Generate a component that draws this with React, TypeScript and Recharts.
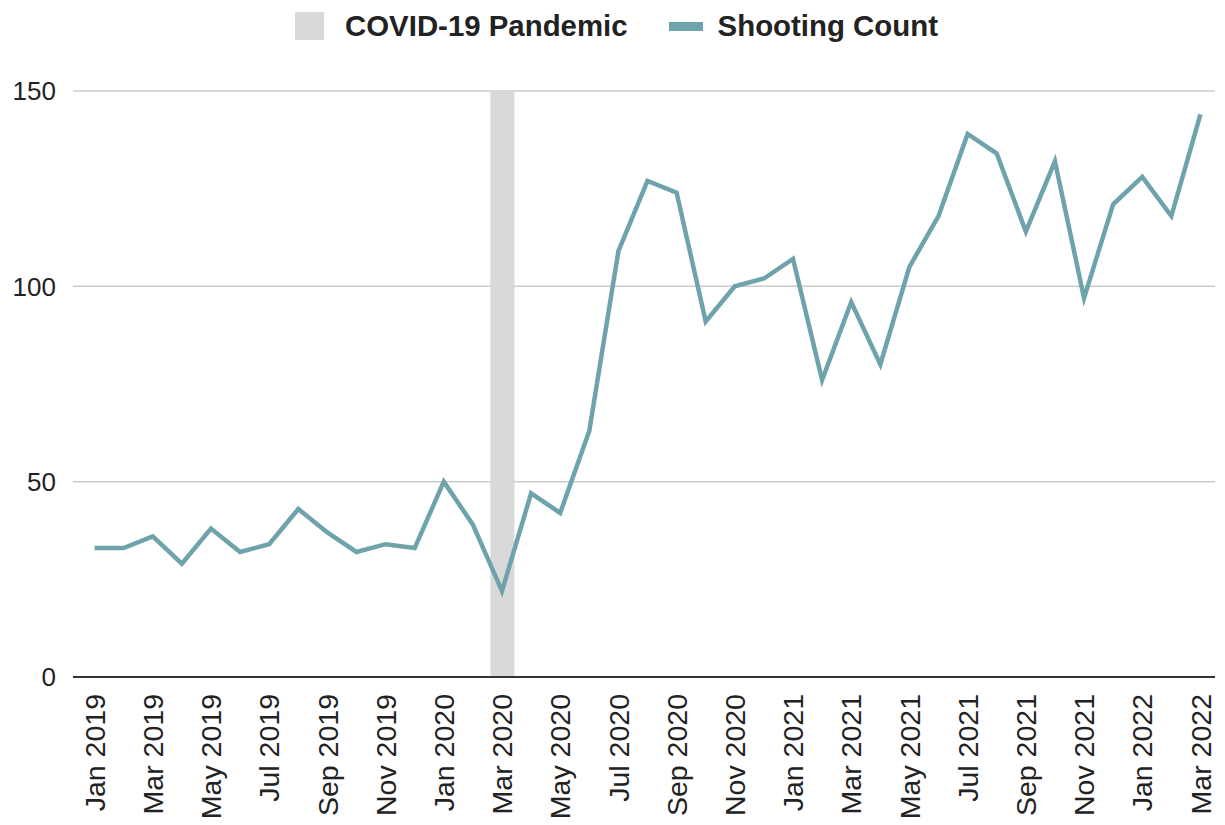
import { ComposedChart, Bar, Line, XAxis, YAxis, CartesianGrid, Legend } from "recharts";

const months = [
  "Jan 2019", "Feb 2019", "Mar 2019", "Apr 2019", "May 2019", "Jun 2019",
  "Jul 2019", "Aug 2019", "Sep 2019", "Oct 2019", "Nov 2019", "Dec 2019",
  "Jan 2020", "Feb 2020", "Mar 2020", "Apr 2020", "May 2020", "Jun 2020",
  "Jul 2020", "Aug 2020", "Sep 2020", "Oct 2020", "Nov 2020", "Dec 2020",
  "Jan 2021", "Feb 2021", "Mar 2021", "Apr 2021", "May 2021", "Jun 2021",
  "Jul 2021", "Aug 2021", "Sep 2021", "Oct 2021", "Nov 2021", "Dec 2021",
  "Jan 2022", "Feb 2022", "Mar 2022",
];

const shootingCount = [
  33, 33, 36, 29, 38, 32, 34, 43, 37, 32, 34, 33,
  50, 39, 22, 47, 42, 63, 109, 127, 124, 91, 100, 102,
  107, 76, 96, 80, 105, 118, 139, 134, 114, 132, 97, 121,
  128, 118, 144,
];

// pandemic marker: one full-height bar at Mar 2020
const covidMonth = "Mar 2020";
const covidHeight = 150;

const yTicks = [0, 50, 100, 150];

const FONT = "'Liberation Sans', Arial, sans-serif";
const LINE_COLOR = "#6fa3ab";
const BAR_COLOR = "#d9d9d9";

const data = months.map((m, i) => ({
  month: m,
  shooting: shootingCount[i],
  covid: m === covidMonth ? covidHeight : null,
}));

function MonthTick({ x, y, payload }: any) {
  const ty = y + 9;
  return (
    <text
      x={x}
      y={ty}
      dy="0.36em"
      transform={`rotate(-90, ${x}, ${ty})`}
      textAnchor="end"
      fontFamily={FONT}
      fontSize={28.5}
      fill="#222"
    >
      {payload.value}
    </text>
  );
}

function LegendBox() {
  return (
    <div
      style={{
        height: 91,
        display: "flex",
        justifyContent: "center",
        alignItems: "flex-start",
        paddingTop: 9,
        paddingLeft: 8,
        boxSizing: "border-box",
        fontFamily: FONT,
        fontWeight: "bold",
        fontSize: 29.4,
        color: "#222",
      }}
    >
      <div style={{ display: "flex", alignItems: "center", marginRight: 41 }}>
        <span style={{ width: 29, height: 28, background: BAR_COLOR, marginRight: 21 }} />
        <span>COVID-19 Pandemic</span>
      </div>
      <div style={{ display: "flex", alignItems: "center" }}>
        <span style={{ width: 34, height: 9, background: LINE_COLOR, marginRight: 15 }} />
        <span>Shooting Count</span>
      </div>
    </div>
  );
}

export default function App() {
  return (
    <div style={{ position: "absolute", left: 0, top: 0, background: "#fff" }}>
      <ComposedChart
        width={1225}
        height={825}
        data={data}
        margin={{ top: 0, right: 10, bottom: 8, left: 0 }}
        barCategoryGap={0}
      >
        <Legend verticalAlign="top" content={<LegendBox />} wrapperStyle={{ left: 0, top: 0, width: 1225 }} />
        <CartesianGrid vertical={false} stroke="#cccccc" strokeWidth={1.5} />
        <XAxis
          dataKey="month"
          interval={1}
          tickLine={false}
          axisLine={{ stroke: "#333", strokeWidth: 2 }}
          tick={<MonthTick />}
          height={140}
          padding={{ left: 7, right: 0 }}
        />
        <YAxis
          domain={[0, 150]}
          ticks={yTicks}
          width={73}
          axisLine={false}
          tickLine={false}
          tickMargin={11}
          tick={{ fontFamily: FONT, fontSize: 26, fill: "#222" }}
        />
        <Bar dataKey="covid" name="COVID-19 Pandemic" fill={BAR_COLOR} barSize={24} isAnimationActive={false} />
        <Line
          dataKey="shooting"
          name="Shooting Count"
          stroke={LINE_COLOR}
          strokeWidth={4.5}
          dot={false}
          activeDot={false}
          type="linear"
          isAnimationActive={false}
        />
      </ComposedChart>
    </div>
  );
}
